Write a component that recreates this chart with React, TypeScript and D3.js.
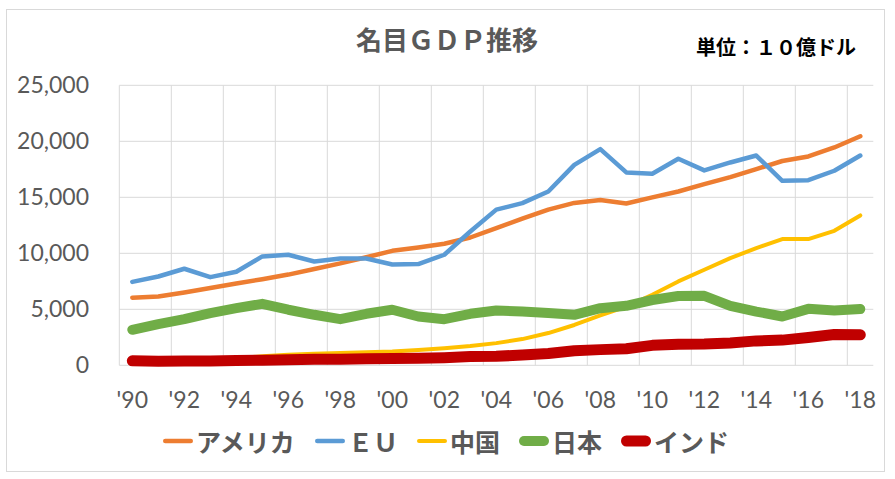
import React from "react";
import * as d3 from "d3";

const years = d3.range(1990, 2019);
const usa = [6030, 6140, 6500, 6900, 7300, 7690, 8100, 8600, 9100, 9650, 10220, 10520, 10850, 11410, 12250, 13100, 13900, 14500, 14750, 14450, 14990, 15520, 16170, 16800, 17520, 18240, 18650, 19450, 20450];
const eu = [7450, 7930, 8620, 7870, 8350, 9720, 9870, 9270, 9540, 9540, 9000, 9040, 9870, 11950, 13900, 14480, 15520, 17900, 19300, 17220, 17100, 18440, 17400, 18110, 18730, 16470, 16530, 17370, 18730];
const china = [360, 380, 430, 500, 620, 800, 950, 1040, 1100, 1160, 1230, 1370, 1530, 1720, 1980, 2340, 2880, 3600, 4450, 5250, 6300, 7490, 8530, 9570, 10460, 11270, 11270, 12010, 13380];
const japan = [3170, 3680, 4120, 4660, 5100, 5490, 4960, 4510, 4120, 4600, 4960, 4360, 4120, 4600, 4900, 4800, 4660, 4510, 5100, 5310, 5830, 6190, 6200, 5310, 4800, 4360, 5040, 4890, 5020];
const india = [400, 370, 380, 390, 420, 460, 500, 530, 550, 580, 600, 630, 680, 780, 800, 920, 1050, 1300, 1400, 1480, 1780, 1880, 1900, 2000, 2180, 2250, 2480, 2750, 2720];

const seriesNames = ["アメリカ", "ＥＵ", "中国", "日本", "インド"];
const seriesValues = [usa, eu, china, japan, india];
const seriesColors = ["#ED7D31", "#5B9BD5", "#FFC000", "#70AD47", "#C00000"];
const seriesWidths = [4.5, 4.5, 4, 10, 11];

const yTicks = [0, 5000, 10000, 15000, 20000, 25000];
const titleText = "名目ＧＤＰ推移";
const unitText = "単位：１０億ドル";

const W = 895;
const H = 479;
const plotLeft = 119.3;
const plotRight = 873.3;
const plotTop = 85.3;
const plotBottom = 365.3;

export default function App() {
  const x = d3.scaleBand<number>().domain(years).range([plotLeft, plotRight]).padding(0);
  const bw = x.bandwidth();
  const cx = (yr: number) => (x(yr) as number) + bw / 2;
  const y = d3.scaleLinear().domain([0, 25000]).range([plotBottom, plotTop]);
  const fmt = d3.format(",");
  const labelYears = years.filter((_, i) => i % 2 === 0);

  const line = d3
    .line<number>()
    .x((_, i) => cx(years[i]))
    .y((d) => y(d));

  const axisFont = "Lato, 'Open Sans', sans-serif";
  const cjkFont = "'Noto Sans CJK JP', 'Noto Sans', sans-serif";

  // legend layout
  const legendFont = 25;
  const swatch = 30;
  const items = seriesNames.map((n) => swatch + 3 + Array.from(n).length * legendFont);
  const gap = 19;
  const totalW = d3.sum(items) + gap * (items.length - 1);
  let lx = 446 - totalW / 2;
  const legendY = 441;
  const legendItems = seriesNames.map((n, i) => {
    const start = lx;
    lx += items[i] + gap;
    return { n, i, start };
  });

  return (
    <svg
      width={W}
      height={H}
      style={{ position: "absolute", left: 0, top: 0, background: "#fff" }}
    >
      <rect x={6.5} y={9.5} width={878} height={462} fill="#fff" stroke="#D9D9D9" strokeWidth={1} />
      {/* horizontal gridlines */}
      {yTicks.map((t) => (
        <line key={"h" + t} x1={plotLeft} x2={plotRight} y1={y(t)} y2={y(t)} stroke="#D9D9D9" strokeWidth={1} />
      ))}
      {/* vertical gridlines */}
      {labelYears.map((yr) => (
        <line key={"v" + yr} x1={x(yr)} x2={x(yr)} y1={plotTop} y2={plotBottom} stroke="#D9D9D9" strokeWidth={1} />
      ))}
      {/* y labels */}
      {yTicks.map((t) => (
        <text key={"yl" + t} x={89} y={y(t)} dy="0.35em" textAnchor="end" fontFamily={axisFont} fontSize={23} fill="#595959">
          {fmt(t)}
        </text>
      ))}
      {/* x labels */}
      {labelYears.map((yr) => (
        <text key={"xl" + yr} x={cx(yr)} y={408.3} textAnchor="middle" fontFamily={axisFont} fontSize={23} fill="#595959">
          {"'" + String(yr).slice(2)}
        </text>
      ))}
      {/* lines */}
      {seriesValues.map((vals, i) => (
        <path
          key={"s" + i}
          d={line(vals) || ""}
          fill="none"
          stroke={seriesColors[i]}
          strokeWidth={seriesWidths[i]}
          strokeLinejoin="round"
          strokeLinecap="round"
        />
      ))}
      {/* title */}
      <text x={447} y={38} dominantBaseline="central" textAnchor="middle" fontFamily={cjkFont} fontSize={26} fontWeight="bold" fill="#595959">
        {titleText}
      </text>
      <text x={856} y={46} dominantBaseline="central" textAnchor="end" fontFamily={cjkFont} fontSize={20} fontWeight="bold" fill="#000">
        {unitText}
      </text>
      {/* legend */}
      {legendItems.map(({ n, i, start }) => (
        <g key={"lg" + i}>
          <line
            x1={start + seriesWidths[i] / 2}
            x2={start + swatch - seriesWidths[i] / 2}
            y1={legendY}
            y2={legendY}
            stroke={seriesColors[i]}
            strokeWidth={seriesWidths[i]}
            strokeLinecap="round"
          />
          <text x={start + swatch + 3} y={legendY} dominantBaseline="central" fontFamily={cjkFont} fontSize={legendFont} fontWeight="bold" fill="#595959">
            {n}
          </text>
        </g>
      ))}
    </svg>
  );
}
